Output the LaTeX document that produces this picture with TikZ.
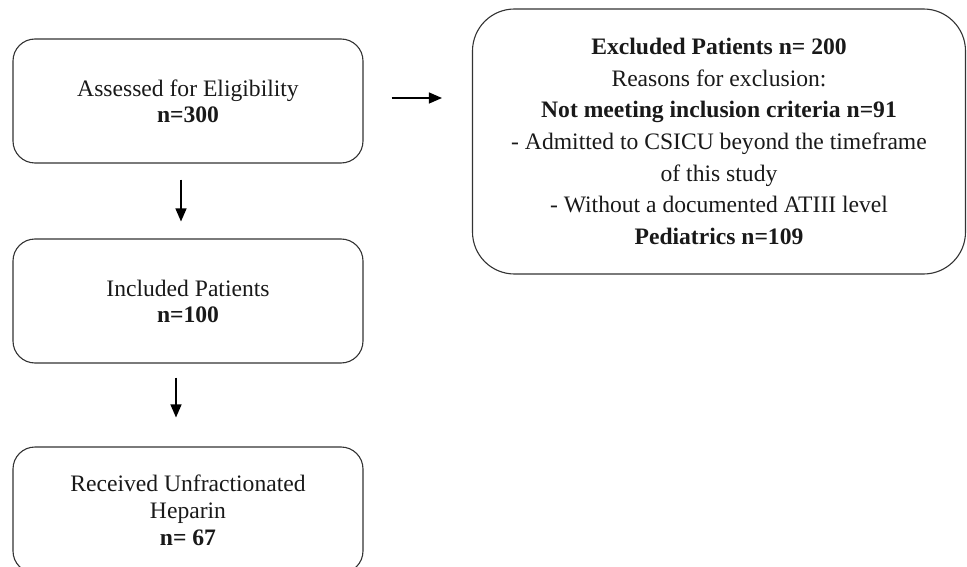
\documentclass[tikz,border=0pt]{standalone}
\usepackage{fontspec}
\setmainfont{Liberation Serif}
\usetikzlibrary{arrows.meta}
\begin{document}
\begin{tikzpicture}[x=1pt,y=-1pt,
  flowbox/.style={draw=black!80, line width=1.1pt, rounded corners=22pt,
    minimum width=350pt, align=center, inner sep=0pt, text=black!90},
  bigbox/.style={draw=black!80, line width=1.1pt, rounded corners=42pt,
    minimum width=493pt, minimum height=265pt, align=center, inner sep=0pt, text=black!90},
  flowarrow/.style={line width=1.3pt, -{Triangle[length=13pt,width=11pt]}}]
\useasboundingbox (0,0) rectangle (967,567);
\node[flowbox, minimum height=124pt, font=\fontsize{23.6}{26}\selectfont] (b1) at (188,101)
  {Assessed for Eligibility\\ \textbf{n=300}};
\node[flowbox, minimum height=124pt, font=\fontsize{23.6}{26}\selectfont] (b2) at (188,301)
  {Included Patients\\ \textbf{n=100}};
\node[flowbox, minimum height=126pt, font=\fontsize{23.6}{27}\selectfont] (b3) at (188,510)
  {Received Unfractionated\\ Heparin\\ \textbf{n= 67}};
\node[bigbox, font=\fontsize{23.6}{31.6}\selectfont] (ex) at (719,141.5)
  {\textbf{Excluded Patients n= 200}\\ Reasons for exclusion:\\ \textbf{Not meeting inclusion criteria n=91}\\
   - Admitted to CSICU beyond the timeframe\\ of this study\\ - Without a documented ATIII level\\ \textbf{Pediatrics n=109}};
\draw[flowarrow] ([xshift=-7pt,yshift=-16pt]b1.south) -- ([xshift=-7pt,yshift=17pt]b2.north);
\draw[flowarrow] ([xshift=-12pt,yshift=-14pt]b2.south) -- ([xshift=-12pt,yshift=29pt]b3.north);
\draw[flowarrow] ([xshift=28pt,yshift=3pt]b1.east) -- ([xshift=-30pt,yshift=3pt]b1.east -| ex.west);
\end{tikzpicture}
\end{document}
